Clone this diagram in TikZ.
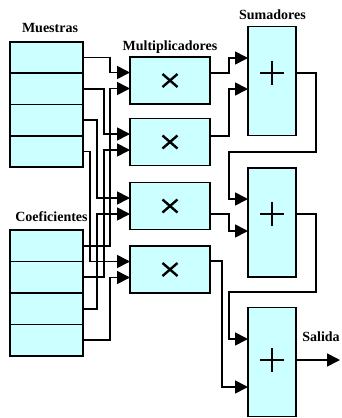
\documentclass[tikz,border=0pt]{standalone}
\usepackage{fontspec}
\setmainfont{Liberation Serif}
\usetikzlibrary{arrows.meta}
\definecolor{cellfill}{RGB}{204,255,255}
\begin{document}
\begin{tikzpicture}[x=1pt,y=-1pt,
  boxbase/.style={draw=black,fill=cellfill,line width=1.7pt,inner sep=0pt,outer sep=0pt},
  cell/.style={boxbase,minimum width=73pt,minimum height=31.4pt},
  mult/.style={boxbase,minimum width=80pt,minimum height=47pt},
  adder/.style={boxbase,minimum width=48pt,minimum height=109pt},
  wire/.style={line width=1.7pt,line join=miter},
  arw/.style={wire,-{Triangle[length=13pt,width=13pt]}},
  lbl/.style={font=\fontsize{14}{16}\selectfont\bfseries,anchor=base,inner sep=0pt},
  sym/.style={line width=2.4pt}]
\useasboundingbox (0,0) rectangle (341,418);

% labels
\node[lbl] (lm) at (50,32) {Muestras};
\node[lbl] (lc) at (51.5,221) {Coeficientes};
\node[lbl] (lp) at (170,50) {Multiplicadores};
\node[lbl] (ls) at (272.5,19) {Sumadores};
\node[lbl] (lo) at (321,341) {Salida};

% muestras
\node[cell] (m1) at (46.5,57.6) {};
\node[cell] (m2) at (46.5,88.9) {};
\node[cell] (m3) at (46.5,120.1) {};
\node[cell] (m4) at (46.5,151.4) {};
% coeficientes
\node[cell] (c1) at (46.5,245.8) {};
\node[cell] (c2) at (46.5,277.2) {};
\node[cell] (c3) at (46.5,308.8) {};
\node[cell] (c4) at (46.5,340.2) {};

% multiplicadores
\node[mult] (p1) at (170,80.5) {};
\node[mult] (p2) at (170,142) {};
\node[mult] (p3) at (170,206) {};
\node[mult] (p4) at (170,269.5) {};
\foreach \p in {p1,p2,p3,p4}{
  \draw[sym] ([shift={(-7.5,-6.5)}]\p.center) -- ([shift={(7.5,6.5)}]\p.center);
  \draw[sym] ([shift={(-7.5,6.5)}]\p.center) -- ([shift={(7.5,-6.5)}]\p.center);
}

% sumadores
\node[adder] (s1) at (272,81) {};
\node[adder] (s2) at (272,222.5) {};
\node[adder] (s3) at (272,362) {};
\foreach \s/\d in {s1/8,s2/8.5,s3/2}{
  \draw[sym] ([shift={(-12,-\d)}]\s.center) -- ([shift={(12,-\d)}]\s.center);
  \draw[sym] ([shift={(0,-\d-12)}]\s.center) -- ([shift={(0,-\d+12)}]\s.center);
}

% muestras -> multiplicadores
\draw[arw] (m1.east) -- ++(27,0) |- ([yshift=8pt]p1.west);
\draw[arw] (m2.east) -- ++(21,0) |- ([yshift=8pt]p2.west);
\draw[arw] (m3.east) -- ++(14,0) |- ([yshift=8pt]p3.west);
\draw[arw] (m4.east) -- ++(7,0) |- ([yshift=8pt]p4.west);
% coeficientes -> multiplicadores
\draw[arw] (c1.east) -- ++(27,0) |- ([yshift=-8pt]p1.west);
\draw[arw] (c2.east) -- ++(21,0) |- ([yshift=-8pt]p2.west);
\draw[arw] (c3.east) -- ++(14,0) |- ([yshift=-8pt]p3.west);
\draw[arw] (c4.east) -- ++(27,0) |- ([yshift=-8pt]p4.west);

% multiplicadores -> sumadores
\draw[arw] ([yshift=7.5pt]p1.east) -- ++(19,0) |- ([yshift=23pt]s1.west);
\draw[arw] ([yshift=6pt]p2.east) -- ++(19,0) |- ([yshift=-8pt]s1.west);
\draw[arw] ([yshift=-8pt]p3.east) -- ++(19,0) |- ([yshift=-8.5pt]s2.west);
\draw[arw] ([yshift=8.5pt]p4.east) -- ++(12,0) |- ([yshift=-25pt]s3.west);

% sumadores en cascada
\draw[arw] ([yshift=8pt]s1.east) -- ++(20,0) -- ++(0,79) -- ++(-87,0) |- ([yshift=23.5pt]s2.west);
\draw[arw] ([yshift=8.5pt]s2.east) -- ++(20,0) -- ++(0,78) -- ++(-87,0) |- ([yshift=23pt]s3.west);

% salida
\coordinate (out) at (340,360);
\draw[arw] ([yshift=2pt]s3.east) -- (out);
\end{tikzpicture}
\end{document}
